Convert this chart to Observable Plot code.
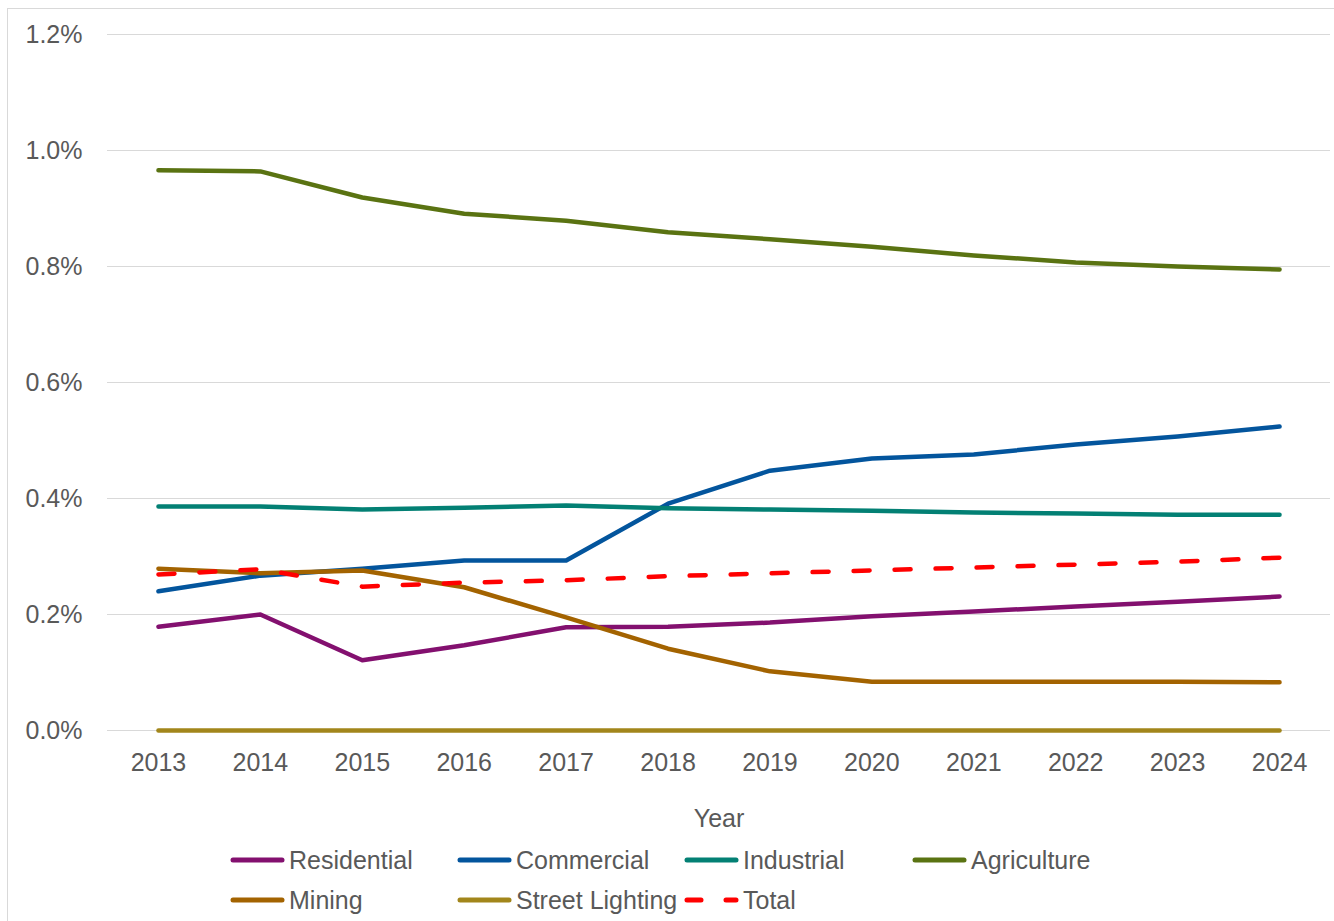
<!DOCTYPE html>
<html>
<head>
<meta charset="utf-8">
<script src="https://cdn.jsdelivr.net/npm/d3@7"></script>
<script src="https://cdn.jsdelivr.net/npm/@observablehq/plot@0.6"></script>
<style>
  html, body { margin: 0; padding: 0; background: #fff; }
  body { width: 1334px; height: 921px; overflow: hidden; position: relative; font-family: "Liberation Sans", Arial, sans-serif; color: #595959; }
  #frame { position: absolute; left: 7px; top: 8px; width: 1340px; height: 930px; border: 1px solid #d9d9d9; box-sizing: border-box; }
  #chart { position: absolute; left: 0; top: 0; }
  #legend { position: absolute; left: 0; top: 840px; width: 1334px; }
  .row { position: relative; height: 40px; }
  .item { position: absolute; top: 0; height: 40px; display: flex; align-items: center; font-size: 25px; white-space: nowrap; }
  .item svg { margin-right: 4px; }
</style>
</head>
<body>
<div id="frame"></div>
<div id="chart"></div>
<div id="legend"></div>
<script>
const years = [2013, 2014, 2015, 2016, 2017, 2018, 2019, 2020, 2021, 2022, 2023, 2024];
const seriesNames = ["Residential", "Commercial", "Industrial", "Agriculture", "Mining", "Street Lighting", "Total"];
const seriesColors = ["#83106f", "#03559d", "#038074", "#5a7312", "#a36300", "#a2861b", "#ff0000"];
const residential = [0.179, 0.200, 0.121, 0.147, 0.178, 0.179, 0.186, 0.197, 0.205, 0.214, 0.222, 0.231];
const commercial = [0.240, 0.267, 0.279, 0.293, 0.293, 0.391, 0.448, 0.469, 0.476, 0.493, 0.507, 0.524];
const industrial = [0.386, 0.386, 0.381, 0.384, 0.388, 0.383, 0.381, 0.379, 0.376, 0.374, 0.372, 0.372];
const agriculture = [0.966, 0.964, 0.919, 0.891, 0.879, 0.859, 0.847, 0.834, 0.819, 0.807, 0.800, 0.795];
const mining = [0.279, 0.271, 0.276, 0.247, 0.195, 0.141, 0.102, 0.084, 0.084, 0.084, 0.084, 0.083];
const streetLighting = [0, 0, 0, 0, 0, 0, 0, 0, 0, 0, 0, 0];
const total = [0.269, 0.278, 0.248, 0.255, 0.259, 0.266, 0.271, 0.276, 0.281, 0.286, 0.291, 0.298];
const yTicks = [0, 0.2, 0.4, 0.6, 0.8, 1.0, 1.2];

const seriesValues = [residential, commercial, industrial, agriculture, mining, streetLighting, total];
const rows = [];
seriesNames.forEach((name, i) => {
  years.forEach((yr, j) => rows.push({series: name, year: yr, value: seriesValues[i][j]}));
});
const solidRows = rows.filter(d => d.series !== "Total");
const totalRows = rows.filter(d => d.series === "Total");

const chart = Plot.plot({
  width: 1334,
  height: 840,
  marginLeft: 107,
  marginRight: 4,
  marginTop: 34,
  marginBottom: 110,
  style: {fontFamily: "Liberation Sans, Arial, sans-serif", fontSize: "25px", color: "#595959", background: "transparent"},
  x: {type: "point", domain: years, padding: 0.5, round: false},
  y: {domain: [0, 1.2]},
  color: {domain: seriesNames, range: seriesColors},
  marks: [
    Plot.gridY(yTicks, {stroke: "#d9d9d9", strokeOpacity: 1, strokeWidth: 1}),
    Plot.axisY(yTicks, {tickSize: 0, tickPadding: 25, tickFormat: d => d.toFixed(1) + "%", label: null, fill: "#595959"}),
    Plot.axisX(years, {tickSize: 0, tickPadding: 23, tickFormat: d => String(d), label: "Year", labelAnchor: "center", labelArrow: "none", labelOffset: 96, fill: "#595959"}),
    Plot.line(solidRows, {x: "year", y: "value", z: "series", stroke: "series", strokeWidth: 4.5, strokeLinecap: "round", strokeLinejoin: "round"}),
    Plot.line(totalRows, {x: "year", y: "value", stroke: "series", strokeWidth: 4.5, strokeLinecap: "round", strokeDasharray: "16,25"})
  ]
});
document.getElementById("chart").appendChild(chart);

// legend
const legendLayout = [
  ["Residential", "Commercial", "Industrial", "Agriculture"],
  ["Mining", "Street Lighting", "Total"]
];
const colX = [230, 457, 684, 912];
const legend = document.getElementById("legend");
legendLayout.forEach(names => {
  const row = document.createElement("div");
  row.className = "row";
  names.forEach((name, k) => {
    const idx = seriesNames.indexOf(name);
    const item = document.createElement("div");
    item.className = "item";
    item.style.left = colX[k] + "px";
    const dashed = name === "Total";
    item.innerHTML = `<svg width="55" height="10"><line x1="3" y1="5" x2="52" y2="5" stroke="${seriesColors[idx]}" stroke-width="5" stroke-linecap="round" ${dashed ? 'stroke-dasharray="14,25"' : ''}/></svg><span>${name}</span>`;
    row.appendChild(item);
  });
  legend.appendChild(row);
});
</script>
</body>
</html>
